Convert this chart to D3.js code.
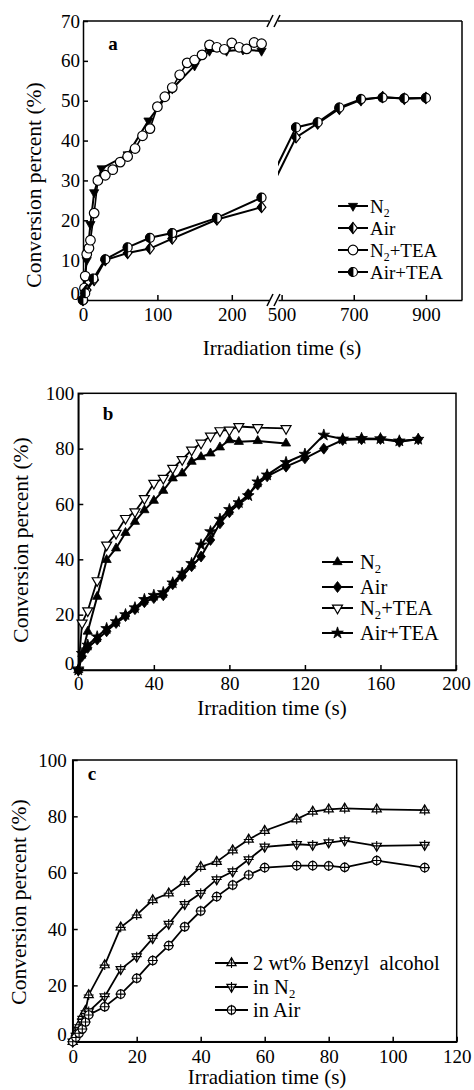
<!DOCTYPE html>
<html><head><meta charset="utf-8">
<script src="https://cdn.jsdelivr.net/npm/d3@7"></script>
<style>
body{margin:0;background:#fff}
svg{display:block}
text{font-family:"Liberation Serif","Times New Roman",serif;fill:#000}
</style>
</head><body>
<svg id="chart" width="474" height="1090"></svg>
<script>
// ---------------- DATA ----------------
// Panel a
const aYTicks = [0,10,20,30,40,50,60,70];
const aXTicksLeft = [0,100,200];
const aXTicksRight = [500,700,900];
const aN2 = [[0,0],[5,10],[10,19],[15,27],[25,33],[60,36.5],[88,45],[120,53],[150,58.8],[170,62.5],[193,62.5],[215,62.8],[240,62.5]];
const aN2TEA = [[0,0],[2,3],[3,6],[5,11.5],[8,13],[10,15],[15,21.8],[20,30],[30,31.3],[40,32.7],[50,34.6],[60,36],[70,38],[80,41.2],[90,43],[100,48.5],[110,51],[120,53.3],[130,56.5],[140,59.5],[150,60.2],[160,61.5],[170,64],[180,63.4],[190,62.9],[200,64.5],[210,63.4],[220,63],[230,64.6],[240,64.3]];
const aAirLeft = [[0,0],[5,2.5],[15,5],[30,10],[60,11.8],[90,12.9],[120,15.4],[180,20.2],[240,23.3]];
const aAirRight = [[540,40.8],[600,44.3],[660,48],[720,50.2],[780,50.9],[840,50.5],[900,50.7]];
const aAirTEALeft = [[0,0],[3,1.7],[14,5.4],[30,10.2],[60,13.2],[90,15.6],[120,16.8],[180,20.6],[240,25.7]];
const aAirTEARight = [[540,43.3],[600,44.6],[660,48.3],[720,50.4],[780,50.8],[840,50.6],[900,50.7]];

// Panel b
const bXTicks = [0,40,80,120,160,200];
const bYTicks = [0,20,40,60,80,100];
const bN2 = [[0,0],[5,13.9],[10,26.5],[15,39.8],[20,44],[25,49.6],[30,53.6],[35,57.8],[40,61.2],[45,64.8],[50,69.3],[55,71.1],[60,75.3],[65,77],[70,78.3],[75,80.5],[80,83.1],[85,82.5],[95,82.8],[110,81.9]];
const bN2TEA = [[0,0],[2,17],[5,21.4],[10,32.3],[15,45.2],[20,49.4],[25,54.8],[30,57.2],[35,62],[40,67.5],[45,69.3],[50,72.9],[55,76.1],[60,79.5],[65,82],[70,84.6],[75,86.5],[80,86.7],[85,88],[95,87.6],[110,87.3]];
const bAir = [[0,0],[2,5],[5,8],[10,11],[15,14],[20,17],[25,19.5],[30,22],[35,24.5],[40,26],[45,27],[50,31],[55,34],[60,37.5],[65,41],[70,47],[75,53],[80,57],[85,60],[90,63.5],[95,67],[100,70],[110,73.5],[120,76.5],[130,80],[140,83.1],[150,83.4],[160,83.5],[170,82.5],[180,83.4]];
const bAirTEA = [[0,0],[2,6],[5,9],[10,12],[15,15],[20,17.5],[25,20],[30,22.5],[35,25.5],[40,27],[45,28],[50,31.5],[55,35],[60,38.5],[65,45.2],[70,50],[75,54.5],[80,58],[85,60.5],[90,63],[95,68],[100,70.5],[110,75],[120,78],[130,84.9],[140,83.5],[150,83.7],[160,83.6],[170,82.8],[180,83.4]];

// Panel c
const cXTicks = [0,20,40,60,80,100,120];
const cYTicks = [0,20,40,60,80,100];
const cBenzyl = [[0,0],[1,3],[2,6],[3,9],[4,11],[5,16.6],[10,27.2],[15,40.6],[20,45],[25,50.3],[30,52.7],[35,56.8],[40,62.1],[45,63.9],[50,68],[55,71.8],[60,74.9],[70,79],[75,81.7],[80,82.5],[85,82.8],[95,82.5],[110,82.2]];
const cN2 = [[0,0],[1,2],[2,4],[3,7],[4,9],[5,10.7],[10,16],[15,25.7],[20,30.2],[25,36.7],[30,41.8],[35,48.8],[40,52.7],[45,57.6],[50,60.4],[55,64.7],[60,69.2],[70,70.1],[75,69.8],[80,70.7],[85,71.4],[95,69.5],[110,69.8]];
const cAir = [[0,0],[1,1.5],[2,3],[3,4.5],[4,7],[5,9.5],[10,12.4],[15,16.9],[20,22.5],[25,28.8],[30,34.1],[35,40.8],[40,46.4],[45,51.5],[50,55.6],[55,59.2],[60,61.8],[70,62.5],[75,62.5],[80,62.4],[85,61.9],[95,64.3],[110,61.8]];

// ---------------- DRAWING ----------------
const svg = d3.select('#chart');

function triPath(r, down){
  const h = r*1.732;
  const a = down ? -1 : 1;
  return `M0,${-a*2*h/3}L${-r},${a*h/3}L${r},${a*h/3}Z`;
}
function mark(g, type, x, y, s){
  s = s || 1;
  const t = g.append('g').attr('transform', `translate(${x},${y})`);
  const sw = 1.2;
  const white = (d)=> t.append('path').attr('d', d).attr('fill','#fff').attr('stroke','#000').attr('stroke-width', sw);
  const black = (d)=> t.append('path').attr('d', d).attr('fill','#000').attr('stroke','#000').attr('stroke-width', 0.8);
  const cross = (r)=> t.append('path').attr('d', `M${-r},0H${r}M0,${-r}V${r}`).attr('stroke','#000').attr('stroke-width',1.1);
  switch(type){
    case 'triDownFilled': black(triPath(4.6*s, true)); break;
    case 'triUpFilled': black(triPath(4.6*s, false)); break;
    case 'triDownOpen': white(triPath(5*s, true)); break;
    case 'diamondHalf': {
      const w=4.3*s, h=5.5*s;
      white(`M0,${-h}L${w},0L0,${h}L${-w},0Z`);
      black(`M0,${-h}L${-w},0L0,${h}Z`);
      break; }
    case 'diamondFilled': {
      const w=4.3*s, h=5.5*s;
      black(`M0,${-h}L${w},0L0,${h}L${-w},0Z`);
      break; }
    case 'circleOpen': {
      const r=4.8*s;
      t.append('circle').attr('r', r).attr('fill','#fff').attr('stroke','#000').attr('stroke-width', sw);
      break; }
    case 'circleHalf': {
      const r=4.5*s;
      t.append('circle').attr('r', r).attr('fill','#fff').attr('stroke','#000').attr('stroke-width', sw);
      black(`M0,${-r}A${r},${r} 0 0 0 0,${r}Z`);
      break; }
    case 'star': {
      t.append('path').attr('d', d3.symbol(d3.symbolStar, 42*s*s)()).attr('fill','#000').attr('stroke','#000').attr('stroke-width',0.8);
      break; }
    case 'triUpCross': white(triPath(4.6*s, false)); cross(5*s); break;
    case 'triDownCross': white(triPath(4.6*s, true)); cross(5*s); break;
    case 'circleCross': {
      t.append('circle').attr('r', 4.2*s).attr('fill','#fff').attr('stroke','#000').attr('stroke-width', sw);
      cross(5.2*s); break; }
  }
}

function series(g, data, xf, yf, type, lw, clipId){
  const line = d3.line().x(d=>xf(d[0])).y(d=>yf(d[1]));
  const p = g.append('path').attr('d', line(data)).attr('fill','none').attr('stroke','#000').attr('stroke-width', lw);
  if (clipId) p.attr('clip-path', `url(#${clipId})`);
  if (type) data.forEach(d => mark(g, type, xf(d[0]), yf(d[1])));
}

function styleAxis(ax, lw){
  ax.selectAll('path.domain').attr('stroke-width', lw);
  ax.selectAll('.tick line').attr('stroke-width', lw);
  ax.selectAll('text').style('font-family','"Liberation Serif","Times New Roman",serif').style('font-size','19px').attr('fill','#000');
}

function yAxis(g, scale, ticks, x0, pad){
  const ax = g.append('g').attr('transform', `translate(${x0},0)`)
    .call(d3.axisLeft(scale).tickValues(ticks).tickSize(-5).tickSizeOuter(0).tickPadding(pad));
  styleAxis(ax, 1.5);
  ax.selectAll('.tick text').filter(d=>d===0).attr('dy','-0.05em');
  return ax;
}
function xAxis(g, scale, ticks, y0, baseOff){
  const ax = g.append('g').attr('transform', `translate(0,${y0})`)
    .call(d3.axisBottom(scale).tickValues(ticks).tickSize(-5).tickSizeOuter(0));
  styleAxis(ax, 1.5);
  ax.selectAll('.tick text').attr('y', baseOff).attr('dy', null);
  return ax;
}
function legend(g, items, x1, x2, tx, rows, fs){
  items.forEach((it, i) => {
    const y = rows[i];
    g.append('line').attr('x1', x1).attr('x2', x2).attr('y1', y).attr('y2', y).attr('stroke','#000').attr('stroke-width', 2);
    mark(g, it.type, (x1+x2)/2, y);
    const t = g.append('text').attr('x', tx).attr('y', y + 6.5).style('font-size', fs + 'px');
    it.label.forEach(part => {
      if (part.sub) t.append('tspan').text(part.t).style('font-size', (fs*0.62)+'px').attr('dy', 4);
      else t.append('tspan').text(part.t).attr('dy', part.after ? -4 : 0);
    });
  });
}
function titles(g, xt, xtx, xty, ytx, yty, letter, lx, ly){
  g.append('text').attr('x', xtx).attr('y', xty).attr('text-anchor','middle').style('font-size','21px').text(xt);
  g.append('text').attr('transform', `translate(${ytx},${yty}) rotate(-90)`).attr('text-anchor','middle')
    .attr('dy','0.35em').style('font-size','21.5px').text('Conversion percent (%)');
  g.append('text').attr('x', lx).attr('y', ly).attr('text-anchor','middle').attr('dy','0.35em')
    .style('font-size','19px').style('font-weight','bold').text(letter);
}

// ===== Panel a =====
{
  const g = svg.append('g');
  const L = 83, R = 462, T = 21, B = 300, brkL = 269, brkR = 278;
  const xL = d3.scaleLinear().domain([0,250]).range([L, brkL]);
  const xR = d3.scaleLinear().domain([490,1000]).range([brkR, R]);
  const y = d3.scaleLinear().domain([0,70]).range([B, T]);
  const xAll = v => v <= 250 ? xL(v) : xR(v);

  const defs = svg.append('defs');
  defs.append('clipPath').attr('id','clipAR').append('rect').attr('x', brkR).attr('y', T).attr('width', R-brkR).attr('height', B-T);

  // frame
  yAxis(g, y, aYTicks, L, 3);
  xAxis(g, xL, aXTicksLeft, B, 21);
  xAxis(g, xR, aXTicksRight, B, 21);
  g.append('line').attr('x1', L).attr('x2', brkL).attr('y1', T).attr('y2', T).attr('stroke','#000').attr('stroke-width',1.5);
  g.append('line').attr('x1', brkR).attr('x2', R).attr('y1', T).attr('y2', T).attr('stroke','#000').attr('stroke-width',1.5);
  g.append('line').attr('x1', R).attr('x2', R).attr('y1', T).attr('y2', B).attr('stroke','#000').attr('stroke-width',1.5);
  [T, B].forEach(yy => {
    [brkL+1, brkR-1].forEach(xx => {
      g.append('line').attr('x1', xx-3).attr('x2', xx+3).attr('y1', yy+6).attr('y2', yy-6).attr('stroke','#000').attr('stroke-width',1.5);
    });
  });

  // lines
  series(g, aN2, xL, y, 'triDownFilled', 2);
  series(g, aN2TEA, xL, y, 'circleOpen', 1.6);
  series(g, aAirLeft, xL, y, 'diamondHalf', 2);
  series(g, [aAirLeft[aAirLeft.length-1]].concat(aAirRight), xAll, y, null, 2, 'clipAR');
  aAirRight.forEach(d => mark(g, 'diamondHalf', xR(d[0]), y(d[1])));
  series(g, aAirTEALeft, xL, y, 'circleHalf', 2);
  series(g, [aAirTEALeft[aAirTEALeft.length-1]].concat(aAirTEARight), xAll, y, null, 2, 'clipAR');
  aAirTEARight.forEach(d => mark(g, 'circleHalf', xR(d[0]), y(d[1])));

  legend(g, [
    {type:'triDownFilled', label:[{t:'N'},{t:'2',sub:true}]},
    {type:'diamondHalf', label:[{t:'Air'}]},
    {type:'circleOpen', label:[{t:'N'},{t:'2',sub:true},{t:'+TEA',after:true}]},
    {type:'circleHalf', label:[{t:'Air+TEA'}]}
  ], 338, 368, 370, [206, 228, 250, 272], 19);

  titles(g, 'Irradiation time (s)', 282, 355, 33, 185, 'a', 113, 43);
}

// ===== Panel b =====
{
  const g = svg.append('g');
  const L = 78.3, R = 456, T = 393.3, B = 670;
  const x = d3.scaleLinear().domain([0,200]).range([L, R]);
  const y = d3.scaleLinear().domain([0,100]).range([B, T]);
  yAxis(g, y, bYTicks, L, 4);
  xAxis(g, x, bXTicks, B, 20);
  g.append('rect').attr('x', L).attr('y', T).attr('width', R-L).attr('height', B-T).attr('fill','none').attr('stroke','#000').attr('stroke-width',1.5);

  series(g, bN2, x, y, 'triUpFilled', 2);
  series(g, bN2TEA, x, y, 'triDownOpen', 1.8);
  series(g, bAir, x, y, 'diamondFilled', 2);
  series(g, bAirTEA, x, y, 'star', 2);

  legend(g, [
    {type:'triUpFilled', label:[{t:'N'},{t:'2',sub:true}]},
    {type:'diamondFilled', label:[{t:'Air'}]},
    {type:'triDownOpen', label:[{t:'N'},{t:'2',sub:true},{t:'+TEA',after:true}]},
    {type:'star', label:[{t:'Air+TEA'}]}
  ], 322, 353, 360, [562, 587, 608, 633], 20.5);

  titles(g, 'Irradition time (s)', 272, 715, 20, 540, 'b', 108, 413);
}

// ===== Panel c =====
{
  const g = svg.append('g');
  const L = 72.7, R = 456.7, T = 760, B = 1041.7;
  const x = d3.scaleLinear().domain([0,120]).range([L, R]);
  const y = d3.scaleLinear().domain([0,100]).range([B, T]);
  yAxis(g, y, cYTicks, L, 6);
  xAxis(g, x, cXTicks, B, 21);
  g.append('rect').attr('x', L).attr('y', T).attr('width', R-L).attr('height', B-T).attr('fill','none').attr('stroke','#000').attr('stroke-width',1.5);

  series(g, cBenzyl, x, y, 'triUpCross', 1.8);
  series(g, cN2, x, y, 'triDownCross', 1.8);
  series(g, cAir, x, y, 'circleCross', 1.8);

  legend(g, [
    {type:'triUpCross', label:[{t:'2 wt% Benzyl\u00a0 alcohol'}]},
    {type:'triDownCross', label:[{t:'in N'},{t:'2',sub:true}]},
    {type:'circleCross', label:[{t:'in Air'}]}
  ], 215, 248, 253, [963, 987, 1010], 20.5);

  titles(g, 'Irradiation time (s)', 267, 1084, 18, 902, 'c', 92, 773);
}
</script>
</body></html>
